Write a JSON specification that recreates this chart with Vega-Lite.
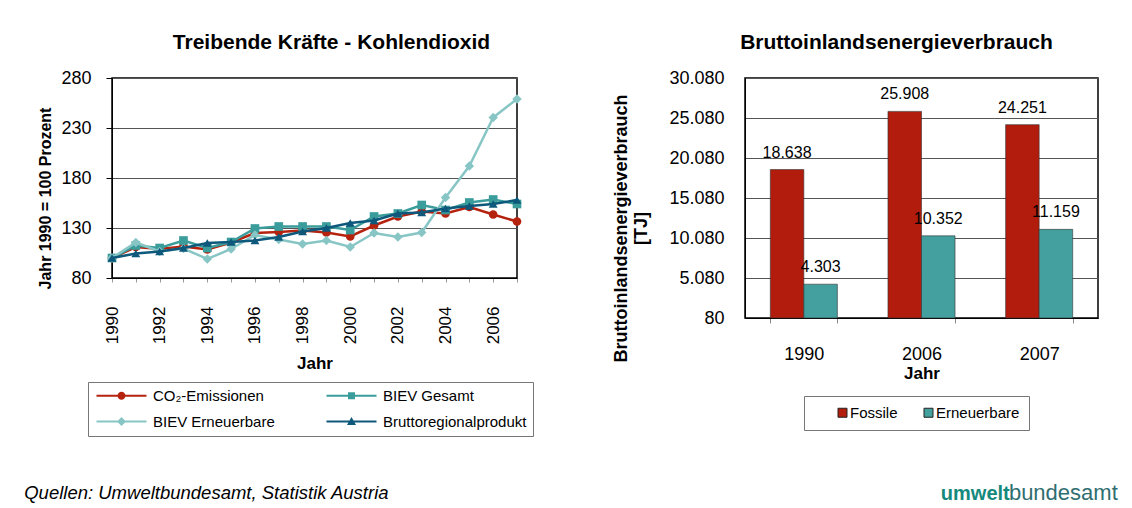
{
  "$schema": "https://vega.github.io/schema/vega-lite/v6.json",
  "background": "white",
  "padding": {"left": 24, "top": 31, "right": 5, "bottom": 0},
  "title": {"text": "Quellen: Umweltbundesamt, Statistik Austria", "orient": "bottom", "anchor": "start", "fontStyle": "italic", "fontWeight": "normal", "fontSize": 18.5, "color": "#000", "dx": -13, "dy": -20, "offset": 0},
  "datasets": {
    "co2": [
      {"Jahr": 1990, "Reihe": "CO₂-Emissionen", "Wert": 100},
      {"Jahr": 1991, "Reihe": "CO₂-Emissionen", "Wert": 111},
      {"Jahr": 1992, "Reihe": "CO₂-Emissionen", "Wert": 109},
      {"Jahr": 1993, "Reihe": "CO₂-Emissionen", "Wert": 111.5},
      {"Jahr": 1994, "Reihe": "CO₂-Emissionen", "Wert": 108.5},
      {"Jahr": 1995, "Reihe": "CO₂-Emissionen", "Wert": 115.5},
      {"Jahr": 1996, "Reihe": "CO₂-Emissionen", "Wert": 125},
      {"Jahr": 1997, "Reihe": "CO₂-Emissionen", "Wert": 126},
      {"Jahr": 1998, "Reihe": "CO₂-Emissionen", "Wert": 127.5},
      {"Jahr": 1999, "Reihe": "CO₂-Emissionen", "Wert": 125.5},
      {"Jahr": 2000, "Reihe": "CO₂-Emissionen", "Wert": 121.5},
      {"Jahr": 2001, "Reihe": "CO₂-Emissionen", "Wert": 132.5},
      {"Jahr": 2002, "Reihe": "CO₂-Emissionen", "Wert": 141.5},
      {"Jahr": 2003, "Reihe": "CO₂-Emissionen", "Wert": 146.5},
      {"Jahr": 2004, "Reihe": "CO₂-Emissionen", "Wert": 144.5},
      {"Jahr": 2005, "Reihe": "CO₂-Emissionen", "Wert": 151},
      {"Jahr": 2006, "Reihe": "CO₂-Emissionen", "Wert": 143.5},
      {"Jahr": 2007, "Reihe": "CO₂-Emissionen", "Wert": 136.5},
      {"Jahr": 1990, "Reihe": "BIEV Gesamt", "Wert": 100},
      {"Jahr": 1991, "Reihe": "BIEV Gesamt", "Wert": 112.5},
      {"Jahr": 1992, "Reihe": "BIEV Gesamt", "Wert": 110},
      {"Jahr": 1993, "Reihe": "BIEV Gesamt", "Wert": 117.5},
      {"Jahr": 1994, "Reihe": "BIEV Gesamt", "Wert": 110},
      {"Jahr": 1995, "Reihe": "BIEV Gesamt", "Wert": 116},
      {"Jahr": 1996, "Reihe": "BIEV Gesamt", "Wert": 129.5},
      {"Jahr": 1997, "Reihe": "BIEV Gesamt", "Wert": 131.5},
      {"Jahr": 1998, "Reihe": "BIEV Gesamt", "Wert": 131.5},
      {"Jahr": 1999, "Reihe": "BIEV Gesamt", "Wert": 131.5},
      {"Jahr": 2000, "Reihe": "BIEV Gesamt", "Wert": 128},
      {"Jahr": 2001, "Reihe": "BIEV Gesamt", "Wert": 141.5},
      {"Jahr": 2002, "Reihe": "BIEV Gesamt", "Wert": 144.5},
      {"Jahr": 2003, "Reihe": "BIEV Gesamt", "Wert": 153},
      {"Jahr": 2004, "Reihe": "BIEV Gesamt", "Wert": 148},
      {"Jahr": 2005, "Reihe": "BIEV Gesamt", "Wert": 155.5},
      {"Jahr": 2006, "Reihe": "BIEV Gesamt", "Wert": 158.5},
      {"Jahr": 2007, "Reihe": "BIEV Gesamt", "Wert": 154},
      {"Jahr": 1990, "Reihe": "BIEV Erneuerbare", "Wert": 100},
      {"Jahr": 1991, "Reihe": "BIEV Erneuerbare", "Wert": 115.5},
      {"Jahr": 1992, "Reihe": "BIEV Erneuerbare", "Wert": 106.5},
      {"Jahr": 1993, "Reihe": "BIEV Erneuerbare", "Wert": 109.5},
      {"Jahr": 1994, "Reihe": "BIEV Erneuerbare", "Wert": 99},
      {"Jahr": 1995, "Reihe": "BIEV Erneuerbare", "Wert": 109},
      {"Jahr": 1996, "Reihe": "BIEV Erneuerbare", "Wert": 123},
      {"Jahr": 1997, "Reihe": "BIEV Erneuerbare", "Wert": 118.5},
      {"Jahr": 1998, "Reihe": "BIEV Erneuerbare", "Wert": 114},
      {"Jahr": 1999, "Reihe": "BIEV Erneuerbare", "Wert": 117.5},
      {"Jahr": 2000, "Reihe": "BIEV Erneuerbare", "Wert": 111},
      {"Jahr": 2001, "Reihe": "BIEV Erneuerbare", "Wert": 125},
      {"Jahr": 2002, "Reihe": "BIEV Erneuerbare", "Wert": 121},
      {"Jahr": 2003, "Reihe": "BIEV Erneuerbare", "Wert": 125.5},
      {"Jahr": 2004, "Reihe": "BIEV Erneuerbare", "Wert": 160.5},
      {"Jahr": 2005, "Reihe": "BIEV Erneuerbare", "Wert": 192},
      {"Jahr": 2006, "Reihe": "BIEV Erneuerbare", "Wert": 240.5},
      {"Jahr": 2007, "Reihe": "BIEV Erneuerbare", "Wert": 259},
      {"Jahr": 1990, "Reihe": "Bruttoregionalprodukt", "Wert": 100},
      {"Jahr": 1991, "Reihe": "Bruttoregionalprodukt", "Wert": 104.5},
      {"Jahr": 1992, "Reihe": "Bruttoregionalprodukt", "Wert": 106.5},
      {"Jahr": 1993, "Reihe": "Bruttoregionalprodukt", "Wert": 110},
      {"Jahr": 1994, "Reihe": "Bruttoregionalprodukt", "Wert": 115},
      {"Jahr": 1995, "Reihe": "Bruttoregionalprodukt", "Wert": 116},
      {"Jahr": 1996, "Reihe": "Bruttoregionalprodukt", "Wert": 117.5},
      {"Jahr": 1997, "Reihe": "Bruttoregionalprodukt", "Wert": 121},
      {"Jahr": 1998, "Reihe": "Bruttoregionalprodukt", "Wert": 126.5},
      {"Jahr": 1999, "Reihe": "Bruttoregionalprodukt", "Wert": 130},
      {"Jahr": 2000, "Reihe": "Bruttoregionalprodukt", "Wert": 135},
      {"Jahr": 2001, "Reihe": "Bruttoregionalprodukt", "Wert": 137.5},
      {"Jahr": 2002, "Reihe": "Bruttoregionalprodukt", "Wert": 144.5},
      {"Jahr": 2003, "Reihe": "Bruttoregionalprodukt", "Wert": 145.5},
      {"Jahr": 2004, "Reihe": "Bruttoregionalprodukt", "Wert": 149.5},
      {"Jahr": 2005, "Reihe": "Bruttoregionalprodukt", "Wert": 152},
      {"Jahr": 2006, "Reihe": "Bruttoregionalprodukt", "Wert": 154},
      {"Jahr": 2007, "Reihe": "Bruttoregionalprodukt", "Wert": 158}
    ],
    "biev": [
      {"Jahr": "1990", "Typ": "Fossile", "Wert": 18638},
      {"Jahr": "1990", "Typ": "Erneuerbare", "Wert": 4303},
      {"Jahr": "2006", "Typ": "Fossile", "Wert": 25908},
      {"Jahr": "2006", "Typ": "Erneuerbare", "Wert": 10352},
      {"Jahr": "2007", "Typ": "Fossile", "Wert": 24251},
      {"Jahr": "2007", "Typ": "Erneuerbare", "Wert": 11159}
    ]
  },
  "vconcat": [
    {
      "title": {"text": "umwelt", "orient": "bottom", "anchor": "end", "fontSize": 20, "fontWeight": "bold", "color": "#14897c", "dx": -108, "dy": -20, "offset": 0},
      "vconcat": [
        {
          "title": {"text": "bundesamt", "orient": "bottom", "anchor": "end", "fontSize": 22, "fontWeight": "normal", "color": "#2f6e70", "dx": 19, "offset": 46},
          "spacing": 77,
          "resolve": {"scale": {"color": "independent", "shape": "independent"}, "legend": {"color": "independent", "shape": "independent"}},
          "hconcat": [
            {
              "width": 405,
              "height": 200,
              "title": {"text": "Treibende Kräfte - Kohlendioxid", "anchor": "middle", "dx": 17, "offset": 16},
              "data": {"name": "co2"},
              "encoding": {
                "x": {"field": "Jahr", "type": "quantitative", "scale": {"domain": [1990, 2007], "nice": false, "zero": false},
                  "axis": {"title": "Jahr", "values": [1990, 1991, 1992, 1993, 1994, 1995, 1996, 1997, 1998, 1999, 2000, 2001, 2002, 2003, 2004, 2005, 2006, 2007],
                    "format": "d", "labelExpr": "datum.value % 2 === 0 ? datum.label : ''", "labelAngle": -90, "labelFontSize": 17, "labelPadding": 24,
                    "tickSize": 4, "tickColor": "#999", "grid": false, "titleFontSize": 17, "titlePadding": 12, "labelFlush": false, "labelOverlap": false}},
                "y": {"field": "Wert", "type": "quantitative", "scale": {"domain": [80, 280], "nice": false, "zero": false},
                  "axis": {"title": "Jahr 1990 = 100 Prozent", "values": [80, 130, 180, 230, 280], "labelFontSize": 18, "titleFontSize": 16,
                    "tickSize": 6, "labelPadding": 15, "titlePadding": 7, "grid": true, "titleY": 120, "labelFlush": false}}
              },
              "layer": [
                {
                  "transform": [{"filter": "datum.Wert < 0"}],
                  "mark": {"type": "point", "filled": true, "opacity": 1, "size": 100},
                  "encoding": {
                    "color": {"field": "Reihe", "type": "nominal",
                      "scale": {"domain": ["CO₂-Emissionen", "BIEV Gesamt", "BIEV Erneuerbare", "Bruttoregionalprodukt"], "range": ["#b5230f", "#3a9d9b", "#88c6c6", "#0d587b"]},
                      "legend": {"title": null, "orient": "none", "legendX": -24, "legendY": 304, "direction": "horizontal", "columns": 2, "symbolSize": 100, "symbolStrokeWidth": 0, "labelFontSize": 15, "labelOffset": 44, "columnPadding": 49, "rowPadding": 10, "padding": 6, "strokeColor": "#777", "fillColor": "white"}},
                    "shape": {"field": "Reihe", "type": "nominal",
                      "scale": {"domain": ["CO₂-Emissionen", "BIEV Gesamt", "BIEV Erneuerbare", "Bruttoregionalprodukt"],
                        "range": [
                          "M-1,-0.22H3.5V0.22H-1Z M4.5,-0.22H9V0.22H4.5Z M3.2,0A0.8,0.8 0 1,1 4.8,0A0.8,0.8 0 1,1 3.2,0Z",
                          "M-1,-0.22H3.5V0.22H-1Z M4.5,-0.22H9V0.22H4.5Z M3.3,-0.7H4.7V0.7H3.3Z",
                          "M-1,-0.22H3.5V0.22H-1Z M4.5,-0.22H9V0.22H4.5Z M4,-0.9L4.9,0L4,0.9L3.1,0Z",
                          "M-1,-0.22H3.7V0.22H-1Z M4.3,-0.22H9V0.22H4.3Z M4,-0.9L4.9,0.7H3.1Z"
                        ]},
                      "legend": {"title": null, "orient": "none", "legendX": -24, "legendY": 304, "direction": "horizontal", "columns": 2, "symbolSize": 100, "symbolStrokeWidth": 0, "labelFontSize": 15, "labelOffset": 44, "columnPadding": 49, "rowPadding": 10, "padding": 6, "strokeColor": "#777", "fillColor": "white"}}
                  }
                },
                {
                  "transform": [{"filter": "datum.Reihe === 'CO₂-Emissionen'"}],
                  "mark": {"type": "line", "strokeWidth": 2.5, "point": {"filled": true, "shape": "circle", "size": 75, "opacity": 1}},
                  "encoding": {"color": {"field": "Reihe", "type": "nominal", "legend": null}}
                },
                {
                  "transform": [{"filter": "datum.Reihe === 'BIEV Gesamt'"}],
                  "mark": {"type": "line", "strokeWidth": 2.5, "point": {"filled": true, "shape": "square", "size": 75, "opacity": 1}},
                  "encoding": {"color": {"field": "Reihe", "type": "nominal", "legend": null}}
                },
                {
                  "transform": [{"filter": "datum.Reihe === 'BIEV Erneuerbare'"}],
                  "mark": {"type": "line", "strokeWidth": 2.5, "point": {"filled": true, "shape": "diamond", "size": 90, "opacity": 1}},
                  "encoding": {"color": {"field": "Reihe", "type": "nominal", "legend": null}}
                },
                {
                  "transform": [{"filter": "datum.Reihe === 'Bruttoregionalprodukt'"}],
                  "mark": {"type": "line", "strokeWidth": 2.5, "point": {"filled": true, "shape": "triangle-up", "size": 80, "opacity": 1}},
                  "encoding": {"color": {"field": "Reihe", "type": "nominal", "legend": null}}
                }
              ]
            },
            {
              "width": 353,
              "height": 240,
              "title": {"text": "Bruttoinlandsenergieverbrauch", "anchor": "middle", "dx": -25, "offset": 16},
              "data": {"name": "biev"},
              "encoding": {
                "x": {"field": "Jahr", "type": "nominal", "scale": {"paddingInner": 0.43, "paddingOuter": 0.215},
                  "axis": {"title": "Jahr", "labelAngle": 0, "labelFontSize": 18, "titleFontSize": 17, "tickBand": "extent", "tickSize": 5, "tickColor": "#888", "labelPadding": 22, "titlePadding": 2, "grid": false}},
                "xOffset": {"field": "Typ", "type": "nominal", "sort": ["Fossile", "Erneuerbare"]},
                "y": {"field": "Wert", "type": "quantitative", "scale": {"domain": [80, 30080], "nice": false, "zero": false},
                  "axis": {"title": ["Bruttoinlandsenergieverbrauch", "[TJ]"], "values": [80, 5080, 10080, 15080, 20080, 25080, 30080], "format": ",d",
                    "labelFontSize": 18, "titleFontSize": 18, "titleLineHeight": 20, "ticks": false, "labelPadding": 21, "titlePadding": 18, "grid": true, "titleY": 150, "labelFlush": false}}
              },
              "layer": [
                {
                  "mark": {"type": "bar", "stroke": "#333", "strokeWidth": 0.6},
                  "encoding": {
                    "y2": {"datum": 80},
                    "color": {"field": "Typ", "type": "nominal", "scale": {"domain": ["Fossile", "Erneuerbare"], "range": ["#b21c0c", "#43a09e"]},
                      "legend": {"title": null, "orient": "none", "legendX": 59, "legendY": 318, "direction": "horizontal", "symbolType": "square", "symbolSize": 81, "symbolStrokeColor": "#222", "symbolStrokeWidth": 1, "labelFontSize": 15, "labelOffset": 0, "columnPadding": 1, "padding": 9, "symbolOffset": 22, "strokeColor": "#777", "fillColor": "white"}}
                  }
                },
                {
                  "mark": {"type": "text", "baseline": "bottom", "dy": -9, "fontSize": 16, "color": "#000"},
                  "encoding": {"text": {"field": "Wert", "type": "quantitative", "format": ",d"}}
                }
              ]
            }
          ]
        }
      ]
    }
  ],
  "config": {
    "locale": {"number": {"decimal": ",", "thousands": ".", "grouping": [3], "currency": ["", " €"]}},
    "font": "Liberation Sans",
    "view": {"stroke": "#000", "strokeWidth": 1.5},
    "axis": {"labelColor": "#000", "titleColor": "#000", "domainColor": "#000", "tickColor": "#000", "gridColor": "#555", "gridWidth": 1, "titleFontWeight": "bold"},
    "legend": {"labelColor": "#000"},
    "title": {"fontSize": 21, "fontWeight": "bold", "color": "#000"}
  }
}
